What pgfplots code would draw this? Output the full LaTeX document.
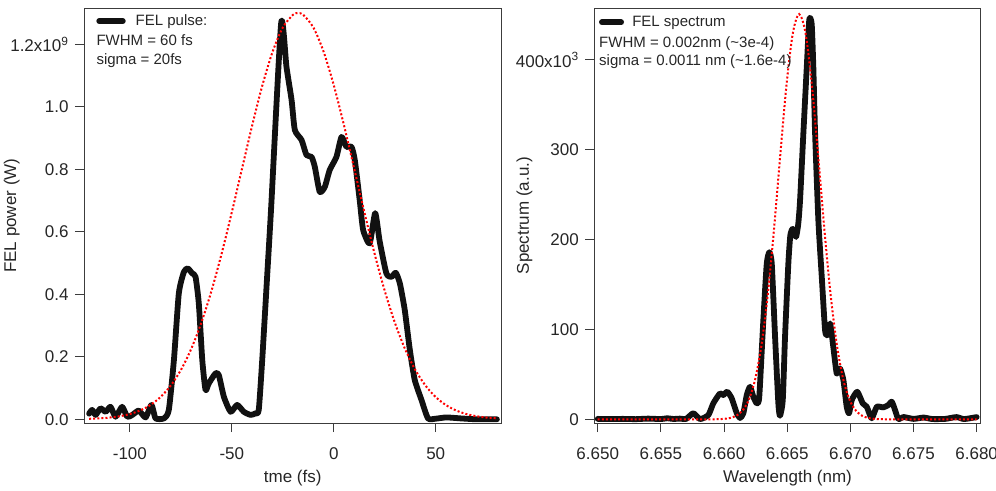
\documentclass[border=0pt]{standalone}
\usepackage{fontspec}
\setmainfont{Liberation Sans}
\usepackage{pgfplots}
\pgfplotsset{compat=1.18}
\definecolor{curve}{RGB}{17,17,17}
\definecolor{axcol}{RGB}{60,60,60}
\begin{document}
\begin{tikzpicture}
\useasboundingbox (0,0) rectangle (996pt,490pt);
\pgfplotsset{
  common/.style={
    scale only axis, height=415pt,
    axis line style={line width=0.9pt, axcol},
    tick align=outside, xtick pos=left, ytick pos=left,
    major tick length=9pt,
    every tick/.style={line width=0.9pt, axcol},
    ticklabel style={font=\fontsize{17}{20}\selectfont, text=black!85},
    xticklabel style={yshift=-12pt},
    yticklabel style={xshift=-3pt},
    label style={font=\fontsize{17}{20}\selectfont, text=black!85},
    legend style={draw=none, fill=none, font=\fontsize{15}{18}\selectfont, inner sep=0pt, outer sep=0pt, text=black!85, nodes={inner sep=0pt}, column sep=0pt},
    legend cell align=left,
    blk/.style={curve, line width=5.8pt, smooth, tension=0.35, line join=round, line cap=round},
    redd/.style={red, line width=2pt, dash pattern=on 2pt off 2.1pt, smooth},
  }
}
% ---------------- left panel ----------------
\begin{axis}[common,
  at={(84pt,66.8pt)}, anchor=south west,
  width=417.4pt,
  xmin=-122.5, xmax=82.2, ymin=-0.0125, ymax=1.316,
  xtick={-100,-50,0,50}, xticklabels={-100,-50,0,50},
  ytick={0,0.2,0.4,0.6,0.8,1.0,1.2},
  yticklabels={0.0,0.2,0.4,0.6,0.8,1.0,1.2x10\textsuperscript{9}},
  xlabel={tme (fs)}, ylabel={FEL power (W)},
  xlabel style={at={(axis description cs:0.5,-0.142)}, anchor=base},
  ylabel style={at={(axis description cs:-0.173,0.5)}, anchor=center},
  legend image code/.code={\draw[#1] (2.9pt,0pt) -- (26.5pt,0pt); \path[draw=none,fill=none] (0pt,0pt) -- (39.4pt,0pt);},
  legend style={at={(axis description cs:0.0295,0.969)}, anchor=west},
]
\addplot[blk] coordinates {
(-120,0.018) (-118.5,0.03) (-116.8,0.014) (-114.4,0.035) (-111.9,0.024)
(-109.5,0.04) (-107,0.008) (-103.8,0.04) (-101.3,0.008) (-98.8,0.014)
(-95.6,0.028) (-92.3,0.006) (-89.4,0.046) (-87.4,0.003) (-83.3,0.003)
(-80.9,0.03) (-78.4,0.19) (-76,0.403) (-73.5,0.472) (-71.6,0.483)
(-69.4,0.467) (-67.8,0.456) (-66.2,0.371) (-64.5,0.19) (-62.9,0.094)
(-61.3,0.115) (-58,0.147) (-56.4,0.142) (-53.9,0.072) (-50.6,0.024)
(-47.4,0.046) (-44.1,0.024) (-40.8,0.014) (-38.4,0.019) (-36.8,0.03)
(-35.1,0.19) (-32.7,0.456) (-30.7,0.68) (-25.8,1.269) (-23.2,1.128)
(-20.7,1.022) (-19.1,0.926) (-15.8,0.894) (-13.4,0.846) (-10.9,0.84)
(-9.3,0.808) (-6.9,0.728) (-4.4,0.744) (-2,0.798) (1.3,0.84)
(3.8,0.904) (6.2,0.872) (8.7,0.872) (10.3,0.83) (12.7,0.702)
(14.4,0.606) (17.6,0.563) (20.3,0.66) (22.5,0.57) (25.8,0.467)
(28.3,0.456) (30.4,0.469) (32.4,0.435) (34.8,0.35) (37.3,0.222)
(39.7,0.126) (43,0.062) (46.2,0.003) (50,0.002) (55.2,0.006)
(62,0.003) (70,0.0) (80,0.0)
};
\addlegendentry{FEL pulse:}
\addplot[redd] coordinates {
(-120,0.0016) (-115,0.0030) (-110,0.0055) (-105,0.0098) (-100,0.0169)
(-95,0.0282) (-90,0.0455) (-85,0.0711) (-80,0.1077) (-75,0.1578)
(-70,0.2242) (-65,0.3084) (-60,0.4108) (-55,0.5303) (-50,0.6629)
(-45,0.8026) (-40,0.9412) (-35,1.0694) (-30,1.1768) (-25,1.2541)
(-20,1.2948) (-17.5,1.3) (-15,1.2948) (-10,1.2541) (-5,1.1768)
(0,1.0694) (5,0.9412) (10,0.8026) (15,0.6629) (20,0.5303)
(25,0.4108) (30,0.3084) (35,0.2242) (40,0.1578) (45,0.1077)
(50,0.0711) (55,0.0455) (60,0.0282) (65,0.0169) (70,0.0098)
(75,0.0055) (80,0.0030)
};
\node[anchor=base west, inner sep=0pt, font=\fontsize{15}{18}\selectfont, text=black!85] at (axis description cs:0.0295,0.910) {FWHM = 60 fs};
\node[anchor=base west, inner sep=0pt, font=\fontsize{15}{18}\selectfont, text=black!85] at (axis description cs:0.0295,0.8655) {sigma = 20fs};
\end{axis}
% ---------------- right panel ----------------
\begin{axis}[common,
  at={(594.3pt,66.8pt)}, anchor=south west,
  width=386.4pt,
  xmin=6.64973, xmax=6.68032, ymin=-4.3, ymax=457.6,
  xtick={6.650,6.655,6.660,6.665,6.670,6.675,6.680},
  xticklabels={6.650,6.655,6.660,6.665,6.670,6.675,6.680},
  ytick={0,100,200,300,400},
  yticklabels={0,100,200,300,400x10\textsuperscript{3}},
  xlabel={Wavelength (nm)}, ylabel={Spectrum (a.u.)},
  xlabel style={at={(axis description cs:0.5,-0.142)}, anchor=base},
  ylabel style={at={(axis description cs:-0.1806,0.5)}, anchor=center},
  legend image code/.code={\draw[#1] (2.9pt,0pt) -- (22.1pt,0pt); \path[draw=none,fill=none] (0pt,0pt) -- (33.3pt,0pt);},
  legend style={at={(axis description cs:0.0122,0.966)}, anchor=west},
]
\addplot[blk] coordinates {
(6.6500,0.5) (6.6510,0.3) (6.6520,0.5) (6.6530,0.2) (6.6540,0.8)
(6.6550,0.3) (6.6555,1.2) (6.6560,0.4) (6.6565,0.8) (6.6570,0.5)
(6.65757,6.8) (6.6581,0.3) (6.65876,4.8) (6.65915,17.8) (6.65968,28.9)
(6.65994,27) (6.66026,30.7) (6.66061,23.3) (6.66101,6.7) (6.66127,1.5)
(6.66153,6.7) (6.66180,27) (6.66206,36.2) (6.66232,25.1) (6.66259,17.8)
(6.66279,25) (6.66311,110) (6.66338,173) (6.66359,186) (6.66378,173)
(6.66404,92) (6.66430,17.8) (6.66443,4) (6.66465,21.4) (6.66483,92)
(6.66509,173) (6.66525,205) (6.66544,212) (6.66570,203) (6.66588,218)
(6.66602,244) (6.66628,318) (6.66655,392) (6.66675,445) (6.66694,440)
(6.66707,392) (6.66721,318) (6.66747,221) (6.66774,158) (6.6680,99)
(6.66818,93.7) (6.6684,106.7) (6.66865,80.7) (6.66892,51) (6.66918,56.7)
(6.66945,43.7) (6.66971,14) (6.6699,6.7) (6.67011,21.4) (6.67055,30.7)
(6.67098,17.8) (6.6713,14) (6.67169,1.1) (6.67209,14) (6.67261,13.3)
(6.67301,15.9) (6.67328,19.6) (6.67354,10.3) (6.6738,0.3) (6.6742,2.6)
(6.6750,0.5) (6.6758,2.0) (6.6765,0.3) (6.6775,0.5) (6.6784,2.5)
(6.6790,0.3) (6.6800,2.5)
};
\addlegendentry{FEL spectrum}
\addplot[redd] coordinates {
(6.6500,0) (6.6560,0) (6.65895,0.04) (6.65995,0.47) (6.66045,1.42)
(6.66095,3.85) (6.66145,9.52) (6.66195,21.4) (6.66245,43.7) (6.66295,81.2)
(6.66345,137.1) (6.66395,210.5) (6.66445,293.8) (6.66495,372.8) (6.66545,430.0)
(6.66595,451) (6.66645,430.0) (6.66695,372.8) (6.66745,293.8) (6.66795,210.5)
(6.66845,137.1) (6.66895,81.2) (6.66945,43.7) (6.66995,21.4) (6.67045,9.52)
(6.67095,3.85) (6.67145,1.42) (6.67195,0.47) (6.67295,0.04) (6.6760,0) (6.6800,0)
};
\node[anchor=base west, inner sep=0pt, font=\fontsize{15}{18}\selectfont, text=black!85] at (axis description cs:0.0122,0.9055) {FWHM = 0.002nm (\textasciitilde 3e-4)};
\node[anchor=base west, inner sep=0pt, font=\fontsize{15}{18}\selectfont, text=black!85] at (axis description cs:0.0122,0.862) {sigma = 0.0011 nm (\textasciitilde 1.6e-4)};
\end{axis}
\end{tikzpicture}
\end{document}
